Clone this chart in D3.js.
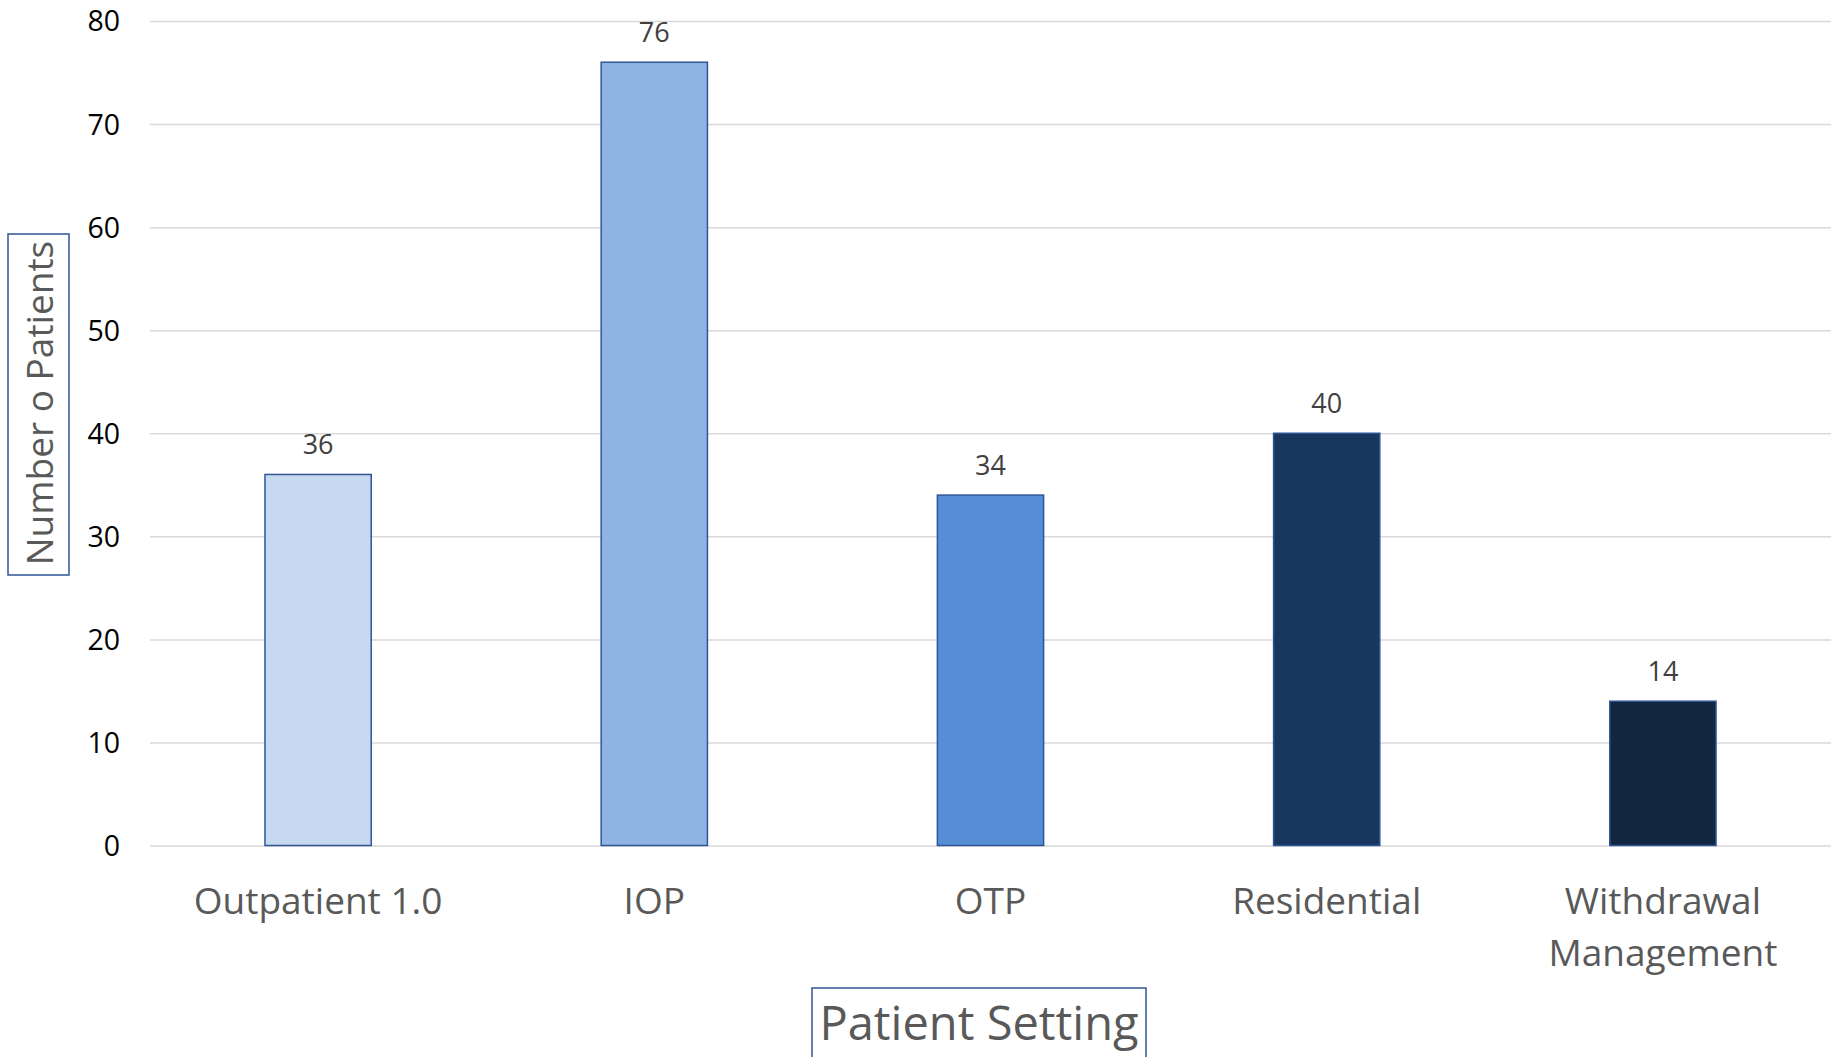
<!DOCTYPE html>
<html>
<head>
<meta charset="utf-8">
<script src="https://cdn.jsdelivr.net/npm/d3@7/dist/d3.min.js"></script>
<style>
  html, body { margin: 0; padding: 0; background: #fff; }
  svg { display: block; }
  text { font-family: "Open Sans", "Noto Sans", sans-serif; }
</style>
</head>
<body>
<svg id="chart" width="1831" height="1057"></svg>
<script>
const categories = ["Outpatient 1.0", "IOP", "OTP", "Residential", "Withdrawal Management"];
const categoryLines = [["Outpatient 1.0"], ["IOP"], ["OTP"], ["Residential"], ["Withdrawal", "Management"]];
const values = [36, 76, 34, 40, 14];
const barColors = ["#C6D9F1", "#8EB4E3", "#558ED5", "#17375E", "#132640"];
const yTicks = [0, 10, 20, 30, 40, 50, 60, 70, 80];
const xTitle = "Patient Setting";
const yTitle = "Number o Patients";

const svg = d3.select("#chart");
const plotLeft = 150, plotRight = 1831, plotTop = 21, plotBottom = 845.5;

const x = d3.scaleBand().domain(categories).range([plotLeft, plotRight]).padding(0);
const y = d3.scaleLinear().domain([0, 80]).range([plotBottom, plotTop]);
const barW = x.bandwidth() * 0.316;

// grid + y ticks
const yAxis = d3.axisLeft(y).tickValues(yTicks).tickSize(-(plotRight - plotLeft)).tickPadding(30);
const gy = svg.append("g").attr("transform", `translate(${plotLeft},0)`).call(yAxis);
gy.select(".domain").remove();
gy.selectAll(".tick line").attr("stroke", "#D9D9D9").attr("stroke-width", 1.5);
gy.selectAll(".tick text").attr("font-size", 28.5).attr("fill", "#000").attr("dy", "0.35em")
  .style("font-family", '"Open Sans", sans-serif');

// bars
svg.append("g").selectAll("rect").data(categories).join("rect")
  .attr("x", d => x(d) + x.bandwidth() / 2 - barW / 2)
  .attr("width", barW)
  .attr("y", (d, i) => y(values[i]))
  .attr("height", (d, i) => y(0) - y(values[i]))
  .attr("fill", (d, i) => barColors[i])
  .attr("stroke", "#2F5597")
  .attr("stroke-width", 1.5);

// data labels
svg.append("g").selectAll("text").data(categories).join("text")
  .attr("x", d => x(d) + x.bandwidth() / 2)
  .attr("y", (d, i) => y(values[i]) - 20)
  .attr("text-anchor", "middle")
  .attr("font-size", 27)
  .attr("fill", "#404040")
  .text((d, i) => values[i]);

// category labels
const cl = svg.append("g").selectAll("text").data(categories).join("text")
  .attr("x", d => x(d) + x.bandwidth() / 2)
  .attr("y", 914)
  .attr("text-anchor", "middle")
  .attr("font-size", 37)
  .attr("fill", "#595959");
cl.each(function(d, i) {
  const t = d3.select(this);
  categoryLines[i].forEach((line, j) => {
    t.append("tspan").attr("x", x(d) + x.bandwidth() / 2).attr("dy", j === 0 ? 0 : 52).text(line);
  });
});

// x title with box
svg.append("rect").attr("x", 812).attr("y", 988).attr("width", 334).attr("height", 80)
  .attr("fill", "none").attr("stroke", "#2F5597").attr("stroke-width", 1.5);
svg.append("text").attr("x", 979).attr("y", 1040).attr("text-anchor", "middle")
  .attr("font-size", 47).attr("fill", "#595959").text(xTitle);

// y title with box
svg.append("rect").attr("x", 8).attr("y", 234).attr("width", 61).attr("height", 341)
  .attr("fill", "none").attr("stroke", "#2F5597").attr("stroke-width", 1.5);
svg.append("text").attr("transform", "translate(53,403) rotate(-90)").attr("text-anchor", "middle")
  .attr("font-size", 37).attr("fill", "#595959").text(yTitle);
</script>
</body>
</html>
